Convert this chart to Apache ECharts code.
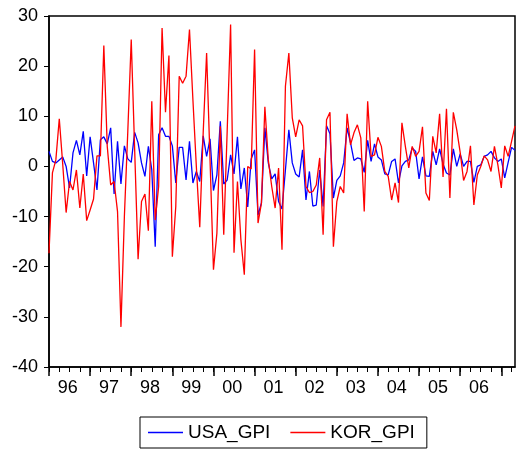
<!DOCTYPE html>
<html>
<head>
<meta charset="utf-8">
<script src="https://cdn.jsdelivr.net/npm/echarts@6/dist/echarts.min.js"></script>
<style>
html,body{margin:0;padding:0;background:#fff;}
#chart{width:516px;height:458px;}
</style>
</head>
<body>
<div id="chart"></div>
<script>
// Monthly observations 1996M01 .. 2007M05 (index 0 = 1996M01)
var yearLabels = ['96','97','98','99','00','01','02','03','04','05','06'];

var usaGPI = [
 3.0, 1.0, 0.7, 1.3, 1.9, 0.0, -4.3, 2.7, 5.2, 2.3, 7.0, -1.9,
 5.9, 0.7, -4.7, 5.3, 5.9, 4.5, 7.7, -5.5, 5.0, -3.5, 4.1, 1.5,
 0.8, 6.8, 4.7, 0.7, -2.0, 4.0, -0.7, -16.0, 6.3, 7.7, 6.0, 6.0,
 4.1, -3.3, 3.8, 3.8, -2.7, 5.0, -3.3, -1.0, -3.0, 6.1, 2.0, 5.5,
 -4.8, -1.7, 9.0, -3.5, -2.7, 2.3, -1.5, 5.9, -4.5, -0.3, -8.1, 1.5,
 3.3, -9.7, -7.3, 7.7, 0.7, -2.5, -1.5, -7.0, -8.5, -0.7, 7.3, 0.7,
 -1.5, -2.1, 3.3, -6.7, -1.0, -7.9, -7.7, -0.7, -8.0, 8.1, 6.5, -6.3,
 -2.8, -1.9, 0.7, 7.7, 4.7, 1.2, 1.7, 1.5, -1.2, 5.2, 1.0, 4.5,
 1.9, 1.3, -1.5, -1.7, 1.0, 1.5, -3.3, 0.1, 1.0, 1.3, 3.7, 3.0,
 -2.5, 1.9, -1.9, -2.0, 3.0, 0.3, 3.5, 0.5, -1.3, -1.7, 3.5, 0.0,
 2.5, 0.0, 1.0, 1.0, -3.2, 0.0, 0.3, 2.0, 2.3, 3.0, 1.7, 1.0,
 1.5, -2.3, 0.8, 3.8, 3.2
];

var korGPI = [
 -17.3, -1.3, 1.3, 9.5, 0.5, -9.2, -3.0, -4.7, -0.7, -8.3, -1.5, -10.8,
 -8.7, -6.5, 2.1, 2.1, 24.1, 4.0, -3.7, -3.0, -9.0, -32.0, -10.0, 7.0,
 25.3, 3.3, -18.5, -7.0, -5.5, -12.8, 13.0, -10.7, -4.0, 27.6, 10.8, 22.1,
 -18.0, -8.0, 18.0, 16.6, 18.0, 27.3, 13.3, 0.0, -12.1, 6.7, 22.6, 1.3,
 -20.6, -13.3, 8.0, -13.6, 7.0, 28.3, -17.2, -3.0, -14.6, -21.6, 0.0, -0.5,
 23.3, -11.3, -7.3, 11.9, 1.3, -4.0, -8.3, -0.3, -16.6, 16.0, 22.6, 9.7,
 5.9, 9.3, 8.1, -4.0, -5.2, -5.0, -3.7, 1.7, -13.6, 9.3, 10.8, -16.0,
 -7.0, -4.0, -5.3, 10.5, 4.3, 6.7, 8.3, 5.7, -9.0, 13.0, 2.0, 2.3,
 5.8, 4.0, -1.0, -2.0, -6.7, -3.3, -7.2, 8.7, 4.0, -0.3, 4.0, 2.0,
 3.0, 7.9, -5.3, -6.8, 6.0, 2.7, 10.5, -2.1, 11.5, -6.3, 10.8, 7.3,
 2.8, -2.8, -1.0, 4.1, -7.7, -1.7, 0.0, 2.1, 1.3, -1.0, 4.0, 0.3,
 -4.3, 4.1, 2.0, 5.0, 8.1
];

var n = usaGPI.length;
var lastIdx = n - 1;
function pairs(arr){ return arr.map(function(v,i){ return [i, v]; }); }

var quarterTicks = [];
for (var q = 0; q <= lastIdx; q += 3) quarterTicks.push(q);
var yearTicks = [];
for (var y = 0; y <= lastIdx; y += 12) yearTicks.push(y);
var labelPos = yearLabels.map(function(_, i){ return i * 12 + 5.5; });

var font = "'Liberation Sans', Arial, sans-serif";
var chart = echarts.init(document.getElementById('chart'), null, {renderer:'canvas'});
chart.setOption({
  animation: false,
  backgroundColor: '#fff',
  grid: {left: 49, right: 1, top: 16, bottom: 91, show: true,
         borderColor: '#000', borderWidth: 1.5, backgroundColor: 'transparent'},
  legend: {
    data: ['USA_GPI', 'KOR_GPI'],
    left: 140, top: 417,
    orient: 'horizontal',
    icon: 'rect', itemWidth: 35, itemHeight: 1.5, itemGap: 20,
    borderColor: '#000', borderWidth: 1, padding: [6, 12, 6, 8],
    textStyle: {fontFamily: font, fontSize: 19, color: '#000'}
  },
  xAxis: [
    {
      type: 'value', min: 0, max: lastIdx, position: 'bottom',
      axisLine: {show: true, onZero: false, lineStyle: {color: '#000', width: 1.5}},
      axisTick: {show: true, inside: false, length: 5, customValues: quarterTicks,
                 lineStyle: {color: '#000', width: 1}},
      axisLabel: {show: true, customValues: labelPos, margin: 12,
                  fontFamily: font, fontSize: 18, color: '#000',
                  formatter: function(v){ return yearLabels[Math.round((v - 5.5) / 12)]; }},
      splitLine: {show: false}
    },
    {
      type: 'value', min: 0, max: lastIdx, position: 'bottom', offset: 0,
      axisLine: {show: false, onZero: false},
      axisTick: {show: true, inside: false, length: 9, customValues: yearTicks,
                 lineStyle: {color: '#000', width: 1.5}},
      axisLabel: {show: false},
      splitLine: {show: false}
    }
  ],
  yAxis: {
    type: 'value', min: -40, max: 30, interval: 10,
    axisLine: {show: true, onZero: false, lineStyle: {color: '#000', width: 1.5}},
    axisTick: {show: true, inside: false, length: 5, lineStyle: {color: '#000', width: 1}},
    axisLabel: {margin: 11, fontFamily: font, fontSize: 18, color: '#000'},
    splitLine: {show: false}
  },
  series: [
    {name: 'USA_GPI', type: 'line', xAxisIndex: 0, data: pairs(usaGPI),
     showSymbol: false, symbol: 'none', color: '#0000ff',
     lineStyle: {color: '#0000ff', width: 1.3}},
    {name: 'KOR_GPI', type: 'line', xAxisIndex: 0, data: pairs(korGPI),
     showSymbol: false, symbol: 'none', color: '#ff0000',
     lineStyle: {color: '#ff0000', width: 1.3}}
  ]
});
</script>
</body>
</html>
